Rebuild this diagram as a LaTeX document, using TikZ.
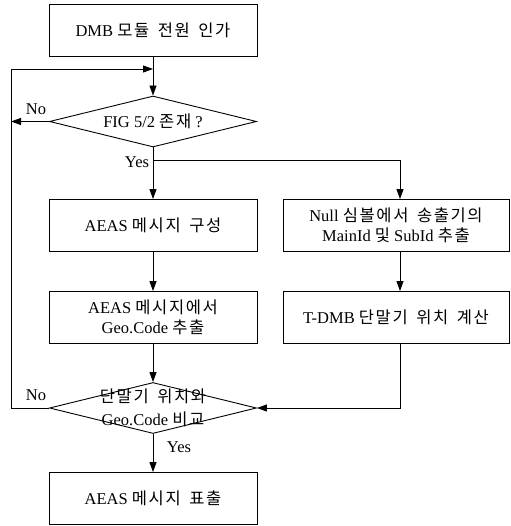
\documentclass[tikz,border=0pt]{standalone}
\usepackage{fontspec}
\setmainfont{Liberation Serif}
\newfontfamily\kr[LetterSpace=10,WordSpace=1.6]{Noto Sans CJK KR}
\usetikzlibrary{shapes.geometric,arrows.meta}
\tikzset{
  box/.style={draw, line width=0.9pt, minimum width=208pt, minimum height=52pt, inner sep=0pt, align=center, font=\fontsize{16.5}{20}\selectfont},
  dia/.style={draw, diamond, line width=0.9pt, minimum width=207pt, minimum height=51pt, inner sep=0pt},
  txt/.style={align=center, font=\fontsize{16.5}{20}\selectfont, inner sep=0pt},
  lbl/.style={font=\fontsize{16.5}{20}\selectfont, inner sep=0pt},
  flow/.style={line width=0.9pt, -{Triangle[length=10pt,width=7pt]}},
  ln/.style={line width=0.9pt}
}
\begin{document}
\begin{tikzpicture}[x=1pt,y=-1pt]
\useasboundingbox[fill=white] (0,0) rectangle (510,526);
\node[box] (b1) at (153,30) {DMB {\kr 모듈 전원 인가}};
\node[dia] (d1) at (153,121.5) {};
\node[txt] (d1t) at (d1) {FIG 5/2 {\kr 존재} ?};
\node[box] (b2) at (153,225.5) {AEAS {\kr 메시지 구성}};
\node[box] (b3) at (153,317.5) {AEAS {\kr 메시지에서}\\Geo.Code {\kr 추출}};
\node[box, minimum width=226pt] (r1) at (396,225.5) {Null {\kr 심볼에서 송출기의}\\MainId {\kr 및} SubId {\kr 추출}};
\node[box, minimum width=226pt] (r2) at (396,317.5) {T-DMB {\kr 단말기 위치 계산}};
\node[dia] (d2) at (153,408) {};
\node[txt] (d2t) at (d2) {{\kr 단말기 위치와}\\[3pt]Geo.Code {\kr 비교}};
\node[box] (b4) at (153,498.5) {AEAS {\kr 메시지 표출}};
\node[lbl] (no1) at (36,109) {No};
\node[lbl] (yes1) at (137,162) {Yes};
\node[lbl] (no2) at (36,395) {No};
\node[lbl] (yes2) at (179,447) {Yes};
\coordinate (mj) at (153,69);
\coordinate (lx) at (11,0);
\coordinate (br) at (153,160);
\coordinate (rx) at (400,0);
\draw[flow] (b1.south) -- (d1.north);
\draw[flow] (d1.west) -- (lx |- d1);
\draw[flow] (d2.west) -- (lx |- d2) -- (lx |- mj) -- (mj);
\draw[flow] (d1.south) -- (b2.north);
\draw[flow] (br) -| (rx |- r1.north);
\draw[flow] (b2.south) -- (b3.north);
\draw[flow] (rx |- r1.south) -- (rx |- r2.north);
\draw[flow] (b3.south) -- (d2.north);
\draw[flow] (rx |- r2.south) -- (rx |- d2) -- (d2.east);
\draw[flow] (d2.south) -- (b4.north);
\end{tikzpicture}
\end{document}
